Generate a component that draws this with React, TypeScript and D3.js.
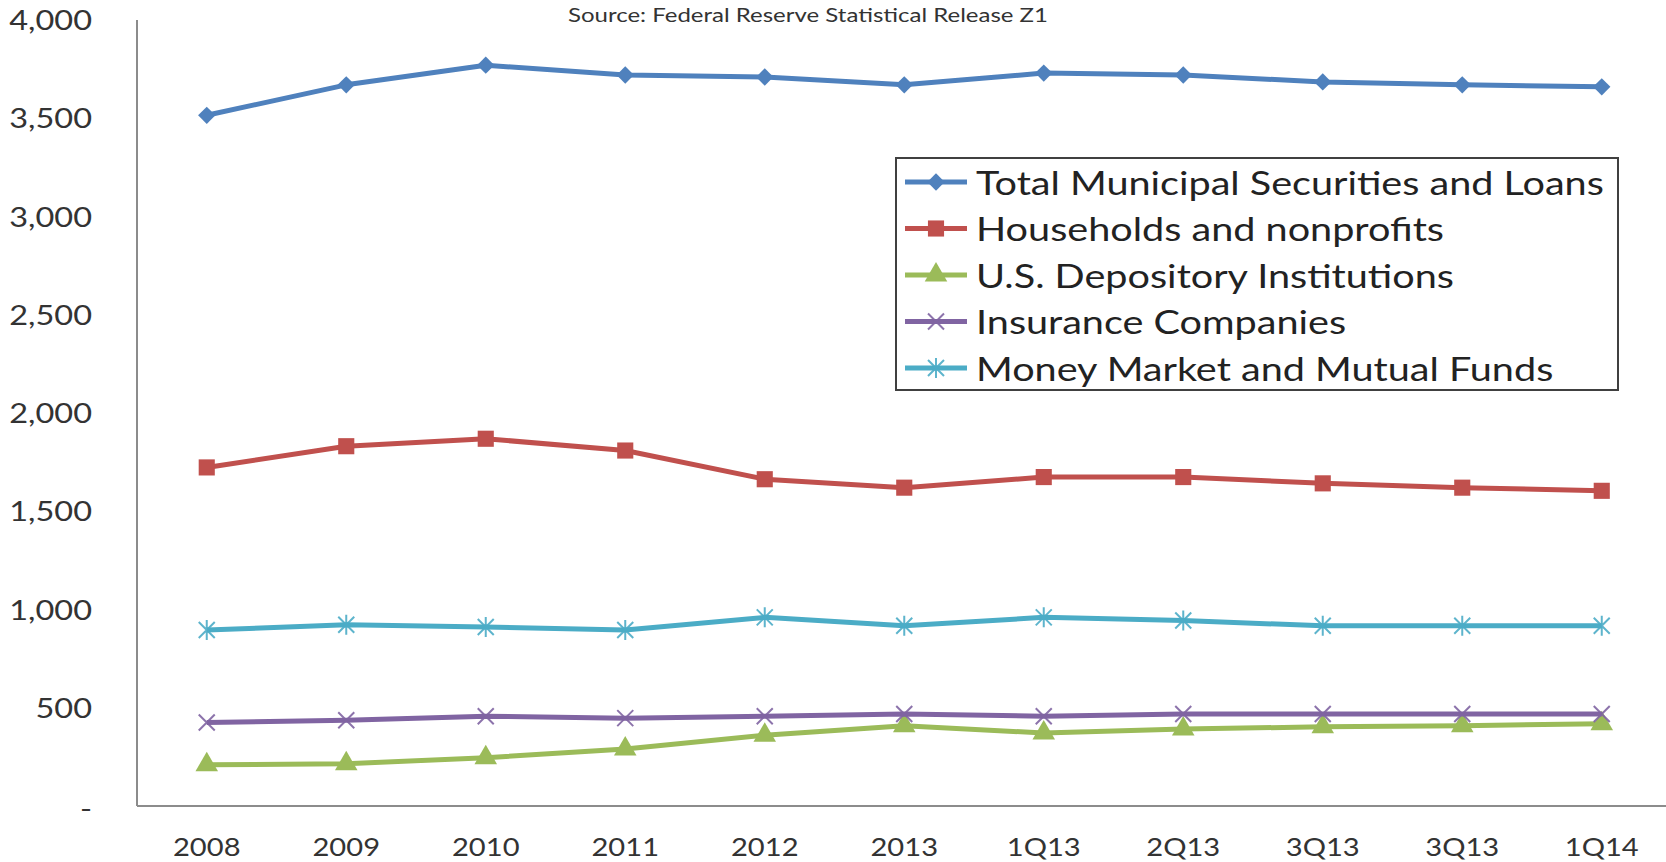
import React from "react";
import * as d3 from "d3";

// periods on the x axis (labels as printed in the source chart)
const periods = ["2008", "2009", "2010", "2011", "2012", "2013", "1Q13", "2Q13", "3Q13", "3Q13 ", "1Q14"];
const periodLabels = ["2008", "2009", "2010", "2011", "2012", "2013", "1Q13", "2Q13", "3Q13", "3Q13", "1Q14"];

const totalMuni = [3515, 3670, 3770, 3720, 3710, 3670, 3730, 3720, 3685, 3670, 3660];
const households = [1723, 1831, 1869, 1809, 1663, 1620, 1674, 1674, 1642, 1620, 1604];
const depository = [210, 215, 246, 290, 360, 409, 371, 392, 403, 409, 419];
const insurance = [425, 436, 457, 447, 457, 468, 457, 468, 468, 468, 468];
const moneyMarket = [896, 922, 911, 896, 960, 917, 960, 944, 917, 917, 917];

const yTicks = [0, 500, 1000, 1500, 2000, 2500, 3000, 3500, 4000];

const series = [
  { name: "Total Municipal Securities and Loans", values: totalMuni, color: "#4F81BD", marker: "diamond" },
  { name: "Households and nonprofits", values: households, color: "#C0504D", marker: "square" },
  { name: "U.S. Depository Institutions", values: depository, color: "#9BBB59", marker: "triangle" },
  { name: "Insurance Companies", values: insurance, color: "#8064A2", marker: "x" },
  { name: "Money Market and Mutual Funds", values: moneyMarket, color: "#4BACC6", marker: "star" },
];

const width = 1666;
const height = 862;
const margin = { top: 20, right: -6, bottom: 56, left: 137 };
const font = "Lato, 'Open Sans', sans-serif";
const textColor = "#333";

// the source image is stretched sideways, so text gets a horizontal scale
const Label = ({ x, y, sx = 1, size, anchor = "start", fill = textColor, children }) => (
  <text
    transform={`translate(${x},${y}) scale(${sx},1)`}
    textAnchor={anchor}
    dominantBaseline="central"
    fontFamily={font}
    fontSize={size}
    fill={fill}
  >
    {children}
  </text>
);

const Marker = ({ type, color, x, y }) => {
  const tr = `translate(${x},${y})`;
  if (type === "diamond") {
    const p = d3.symbol(d3.symbolSquare, 150)();
    return <path d={p} transform={`${tr} rotate(45)`} fill={color} />;
  }
  if (type === "square") {
    const p = d3.symbol(d3.symbolSquare, 260)();
    return <path d={p} transform={tr} fill={color} />;
  }
  if (type === "triangle") {
    const p = d3.symbol(d3.symbolTriangle, 220)();
    return <path d={p} transform={tr} fill={color} />;
  }
  // x and star are stroked
  const r = 8;
  let d = `M${-r},${-r}L${r},${r}M${-r},${r}L${r},${-r}`;
  if (type === "star") d += `M0,${-r - 2}L0,${r + 2}`;
  return <path d={d} transform={tr} stroke={color} strokeWidth={2} fill="none" opacity={0.9} />;
};

export default function App() {
  const x = d3
    .scaleBand()
    .domain(periods)
    .range([margin.left, margin.left + 139.5 * periods.length]);
  const y = d3
    .scaleLinear()
    .domain([0, 4000])
    .range([height - margin.bottom, margin.top]);

  const cx = (i) => x(periods[i]) + x.bandwidth() / 2;
  const line = d3
    .line()
    .x((d, i) => cx(i))
    .y((d) => y(d));

  const legend = { x: 896, y: 158, w: 722, h: 232, row: 46.5 };

  return (
    <svg
      width={width}
      height={height}
      style={{ position: "absolute", left: 0, top: 0, background: "#fff" }}
    >
      <rect width={width} height={height} fill="#fff" />

      <Label x={808} y={14} sx={1.2} size={20} anchor="middle">
        Source: Federal Reserve Statistical Release Z1
      </Label>

      {/* y axis */}
      <line x1={margin.left} x2={margin.left} y1={y(4000)} y2={y(0)} stroke="#8c8c8c" strokeWidth={2} />
      {yTicks.map((t) => (
        <Label key={t} x={92} y={t === 0 ? y(t) + 2 : y(t)} sx={1.25} size={26} anchor="end">
          {t === 0 ? "-" : d3.format(",")(t)}
        </Label>
      ))}

      {/* x axis */}
      <line x1={margin.left} x2={width} y1={y(0)} y2={y(0)} stroke="#8c8c8c" strokeWidth={2} />
      {periods.map((p, i) => (
        <Label key={p} x={cx(i)} y={846} sx={1.12} size={26} anchor="middle">
          {periodLabels[i]}
        </Label>
      ))}

      {/* series */}
      {series.map((s) => (
        <g key={s.name}>
          <path d={line(s.values)} fill="none" stroke={s.color} strokeWidth={5} strokeLinejoin="round" />
          {s.values.map((v, i) => (
            <Marker key={i} type={s.marker} color={s.color} x={cx(i)} y={y(v)} />
          ))}
        </g>
      ))}

      {/* legend */}
      <rect
        x={legend.x}
        y={legend.y}
        width={legend.w}
        height={legend.h}
        fill="#fff"
        stroke="#404040"
        strokeWidth={2}
      />
      {series.map((s, i) => {
        const ry = 182 + i * legend.row;
        return (
          <g key={s.name}>
            <line x1={905} x2={967} y1={ry} y2={ry} stroke={s.color} strokeWidth={5} />
            <Marker type={s.marker} color={s.color} x={936} y={ry} />
            <Label x={976} y={ry} sx={1.2} size={33} fill="#222">
              {s.name}
            </Label>
          </g>
        );
      })}
    </svg>
  );
}
